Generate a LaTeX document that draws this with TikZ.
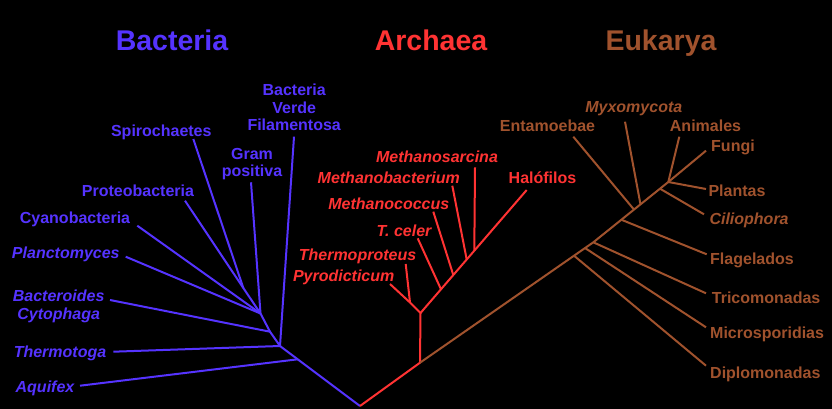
\documentclass[tikz,border=0pt]{standalone}
\usepackage{fontspec}
\setmainfont{Liberation Sans}
\definecolor{bactblue}{HTML}{5533FF}
\definecolor{archred}{HTML}{FF3333}
\definecolor{eukbrown}{HTML}{A0522D}
\tikzset{
  taxon/.style={
    font=\fontsize{16}{17.5}\selectfont\bfseries, inner sep=0pt,
    anchor=base, align=center
  },
  taxonit/.style={taxon, font=\fontsize{16}{17.5}\selectfont\bfseries\itshape},
  domainlbl/.style={
    font=\fontsize{28.5}{30}\selectfont\bfseries, inner sep=0pt, anchor=base
  },
  branch/.style={line width=2pt, line join=round}
}

\begin{document}
\begin{tikzpicture}[x=1pt, y=-1pt]
  \useasboundingbox[fill=black] (0,0) rectangle (832,409);

  % Domain titles
  \node[domainlbl, text=bactblue] (bacteria) at (172,51) {Bacteria};
  \node[domainlbl, text=archred]  (archaea)  at (431,51) {Archaea};
  \node[domainlbl, text=eukbrown] (eukarya)  at (661,51) {Eukarya};

  % Bacteria labels
  \node[taxon, text=bactblue]   (spiro)  at (161.3,136)   {Spirochaetes};
  \node[taxon, text=bactblue]   (gram)   at (252,176.5)   {Gram\\positiva};
  \node[taxon, text=bactblue]   (verde)  at (294.2,130.7) {Bacteria\\Verde\\Filamentosa};
  \node[taxon, text=bactblue]   (proteo) at (138,196.7)   {Proteobacteria};
  \node[taxon, text=bactblue]   (cyano)  at (75,223.3)    {Cyanobacteria};
  \node[taxonit, text=bactblue] (planc)  at (65.8,258.3)  {Planctomyces};
  \node[taxonit, text=bactblue] (bacter) at (58.7,319.3)  {Bacteroides\\Cytophaga};
  \node[taxonit, text=bactblue] (thermo) at (60,357.3)    {Thermotoga};
  \node[taxonit, text=bactblue] (aqui)   at (45,392.7)    {Aquifex};

  % Archaea labels
  \node[taxonit, text=archred] (msar)   at (437,162.3)   {Methanosarcina};
  \node[taxonit, text=archred] (mbac)   at (388.8,183.3) {Methanobacterium};
  \node[taxonit, text=archred] (mcoc)   at (388.8,209.3) {Methanococcus};
  \node[taxonit, text=archred] (celer)  at (404,236.7)   {T. celer};
  \node[taxonit, text=archred] (thprot) at (357.5,260)   {Thermoproteus};
  \node[taxonit, text=archred] (pyro)   at (343.7,281)   {Pyrodicticum};
  \node[taxon, text=archred]   (halo)   at (542.5,183.3) {Halófilos};

  % Eukarya labels
  \node[taxonit, text=eukbrown] (myxo)   at (633.8,112.7) {Myxomycota};
  \node[taxon, text=eukbrown]   (entam)  at (547.5,131.7) {Entamoebae};
  \node[taxon, text=eukbrown]   (animal) at (705.5,131.7) {Animales};
  \node[taxon, text=eukbrown, anchor=base west]   (fungi) at (711,151.7)   {Fungi};
  \node[taxon, text=eukbrown, anchor=base west]   (plant) at (708.3,196)   {Plantas};
  \node[taxonit, text=eukbrown, anchor=base west] (cilio) at (709.3,224.3) {Ciliophora};
  \node[taxon, text=eukbrown, anchor=base west]   (flag)  at (710,264)     {Flagelados};
  \node[taxon, text=eukbrown, anchor=base west]   (trico) at (711.7,303.3) {Tricomonadas};
  \node[taxon, text=eukbrown, anchor=base west]   (micro) at (710,338.3)   {Microsporidias};
  \node[taxon, text=eukbrown, anchor=base west]   (diplo) at (710,378.3)   {Diplomonadas};

  % Branch points
  \coordinate (root) at (360,406);
  \coordinate (b0) at (297.7,359.3);
  \coordinate (b1) at (280,346);
  \coordinate (b2) at (270,331.7);
  \coordinate (b3) at (260.5,313.5);
  \coordinate (bsp) at (243.3,288);
  \coordinate (a0) at (420,362.7);
  \coordinate (a1) at (420.5,313);
  \coordinate (ap) at (410,302.5);
  \coordinate (acel) at (441,289.3);
  \coordinate (amco) at (453.3,275);
  \coordinate (amba) at (466.7,259.5);
  \coordinate (amsa) at (474.3,250.7);
  \coordinate (e1) at (574,255.7);
  \coordinate (e2) at (585,248);
  \coordinate (e3) at (593.3,242.3);
  \coordinate (e4) at (621.5,219.8);
  \coordinate (e5) at (634,209.6);
  \coordinate (e6) at (640.5,204.4);
  \coordinate (e7) at (660,188.7);
  \coordinate (e8) at (668.3,182);

  % Branch tips
  \coordinate (aqui-tip) at (80,385.7);
  \coordinate (thermo-tip) at (113.3,351.7);
  \coordinate (bacter-tip) at (110,300);
  \coordinate (planc-tip) at (125.7,256.7);
  \coordinate (cyano-tip) at (137.3,225.7);
  \coordinate (proteo-tip) at (185,200.7);
  \coordinate (spiro-tip) at (193.3,139);
  \coordinate (gram-tip) at (251,182.3);
  \coordinate (verde-tip) at (294,136.7);
  \coordinate (pyro-tip) at (390,284);
  \coordinate (thprot-tip) at (405.7,264);
  \coordinate (celer-tip) at (417.7,238.3);
  \coordinate (mcoc-tip) at (433.3,211.7);
  \coordinate (mbac-tip) at (452.3,185.7);
  \coordinate (msar-tip) at (475,167.3);
  \coordinate (halo-tip) at (526.7,190);
  \coordinate (diplo-tip) at (706,365.7);
  \coordinate (micro-tip) at (706,327.3);
  \coordinate (trico-tip) at (706,293.3);
  \coordinate (flag-tip) at (706.7,254.3);
  \coordinate (entam-tip) at (573.3,136.7);
  \coordinate (myxo-tip) at (625,121.7);
  \coordinate (cilio-tip) at (704,214.3);
  \coordinate (animal-tip) at (679.3,136.7);
  \coordinate (fungi-tip) at (706,150.7);
  \coordinate (plant-tip) at (706,189);

  % Bacteria branches
  \draw[branch, bactblue] (root) -- (b0) -- (b1) -- (b2) -- (b3) -- (bsp) -- (proteo-tip);
  \draw[branch, bactblue] (b0) -- (aqui-tip);
  \draw[branch, bactblue] (b1) -- (thermo-tip);
  \draw[branch, bactblue] (b1) -- (verde-tip);
  \draw[branch, bactblue] (b2) -- (bacter-tip);
  \draw[branch, bactblue] (b3) -- (planc-tip);
  \draw[branch, bactblue] (b3) -- (cyano-tip);
  \draw[branch, bactblue] (b3) -- (gram-tip);
  \draw[branch, bactblue] (bsp) -- (spiro-tip);

  % Archaea branches
  \draw[branch, archred] (root) -- (a0) -- (a1) -- (ap) -- (pyro-tip);
  \draw[branch, archred] (ap) -- (thprot-tip);
  \draw[branch, archred] (a1) -- (halo-tip);
  \draw[branch, archred] (acel) -- (celer-tip);
  \draw[branch, archred] (amco) -- (mcoc-tip);
  \draw[branch, archred] (amba) -- (mbac-tip);
  \draw[branch, archred] (amsa) -- (msar-tip);

  % Eukarya branches
  \draw[branch, eukbrown] (a0) -- (e3) -- (e8) -- (animal-tip);
  \draw[branch, eukbrown] (e8) -- (fungi-tip);
  \draw[branch, eukbrown] (e8) -- (plant-tip);
  \draw[branch, eukbrown] (e7) -- (cilio-tip);
  \draw[branch, eukbrown] (e6) -- (myxo-tip);
  \draw[branch, eukbrown] (e5) -- (entam-tip);
  \draw[branch, eukbrown] (e4) -- (flag-tip);
  \draw[branch, eukbrown] (e3) -- (trico-tip);
  \draw[branch, eukbrown] (e2) -- (micro-tip);
  \draw[branch, eukbrown] (e1) -- (diplo-tip);
\end{tikzpicture}
\end{document}
